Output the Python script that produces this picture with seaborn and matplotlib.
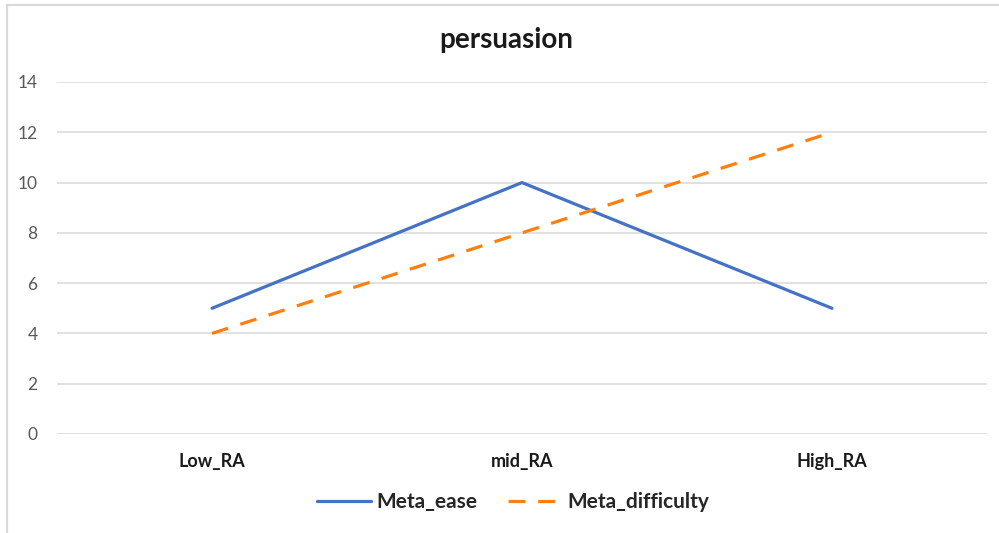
import matplotlib
matplotlib.use("Agg")
import matplotlib.pyplot as plt
from matplotlib.lines import Line2D
import seaborn as sns
import pandas as pd

categories = ["Low_RA", "mid_RA", "High_RA"]
meta_ease = [5, 10, 5]
meta_difficulty = [4, 8, 12]
series_names = ["Meta_ease", "Meta_difficulty"]
y_ticks = [0, 2, 4, 6, 8, 10, 12, 14]

df = pd.DataFrame({
    "category": categories * 2,
    "value": meta_ease + meta_difficulty,
    "series": [series_names[0]] * 3 + [series_names[1]] * 3,
})
df["x"] = df["category"].map({c: i for i, c in enumerate(categories)})

sns.set_theme(style="white")
plt.rcParams["font.family"] = ["Lato", "DejaVu Sans"]

W, H = 999, 533
fig = plt.figure(figsize=(W / 100, H / 100), dpi=100)
ax = fig.add_axes([57 / W, 1 - 434 / H, (987 - 57) / W, (434 - 82) / H])

palette = {"Meta_ease": "#4472c4", "Meta_difficulty": "#ff7f0e"}
dash = (5.3, 4.0)
lw = 2.3
sns.lineplot(data=df, x="x", y="value", hue="series", style="series",
             palette=palette, dashes={"Meta_ease": "", "Meta_difficulty": dash},
             linewidth=lw, markers=False, legend=False, ax=ax)

ax.set_xlim(-0.5, 2.5)
ax.set_ylim(0, 14)
ax.set_yticks(y_ticks)
ax.set_yticklabels([str(t) for t in y_ticks], color="#595959", fontsize=12.5)
ax.set_xticks(range(len(categories)))
ax.set_xticklabels(categories, fontsize=13, fontweight="bold", color="#1a1a1a")
ax.tick_params(axis="both", length=0)
ax.tick_params(axis="y", pad=14)
ax.tick_params(axis="x", pad=14)
ax.grid(axis="y", color="#d9d9d9", linewidth=1.1)
ax.set_axisbelow(True)
for s in ax.spines.values():
    s.set_visible(False)
ax.set_xlabel("")
ax.set_ylabel("")

fig.text(506 / W, 1 - 40 / H, "persuasion", ha="center", va="center",
         fontsize=20, fontweight="bold", color="#1a1a1a")

handles = [
    Line2D([], [], color=palette["Meta_ease"], linewidth=lw),
    Line2D([], [], color=palette["Meta_difficulty"], linewidth=lw, dashes=dash),
]
fig.legend(handles, series_names, loc="center", bbox_to_anchor=(513 / W, 1 - 502 / H),
           ncol=2, frameon=False, handlelength=2.6, handletextpad=0.25,
           columnspacing=1.5, prop={"weight": "bold", "size": 15})

# thin frame on the top and left edges
fig.add_artist(Line2D([6.5 / W, 6.5 / W], [0, 1 - 4.5 / H], color="#d9d9d9",
                      linewidth=1.6, transform=fig.transFigure))
fig.add_artist(Line2D([6.5 / W, 1], [1 - 4.5 / H, 1 - 4.5 / H], color="#d9d9d9",
                      linewidth=1.6, transform=fig.transFigure))

fig.savefig("out.png", dpi=100)
